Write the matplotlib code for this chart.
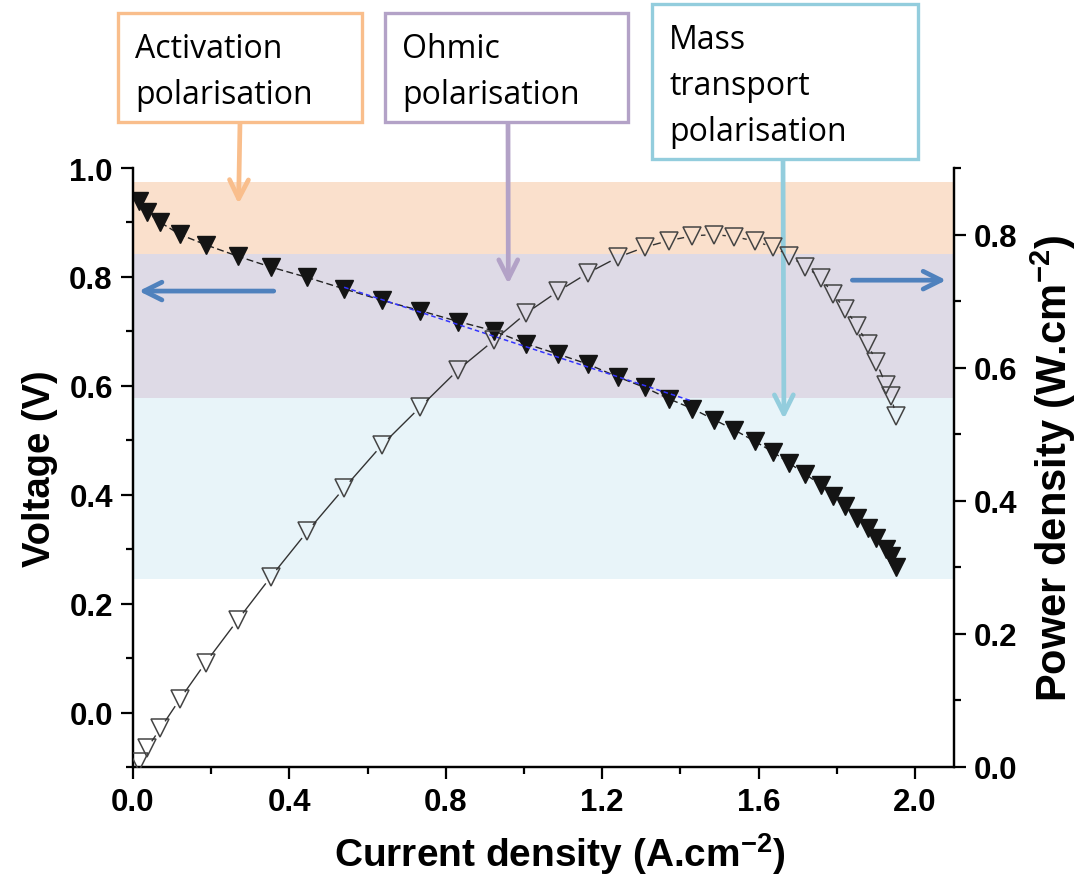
import matplotlib
matplotlib.use('Agg')
import matplotlib.pyplot as plt
import numpy as np
from matplotlib.patches import Rectangle
from matplotlib.collections import LineCollection
from matplotlib.ticker import MultipleLocator

# Data
current = [0.015, 0.036, 0.070, 0.120, 0.186, 0.268, 0.353, 0.446, 0.540, 0.637,
           0.735, 0.832, 0.923, 1.006, 1.088, 1.163, 1.241, 1.309, 1.371, 1.431,
           1.486, 1.538, 1.591, 1.638, 1.679, 1.719, 1.760, 1.790, 1.822, 1.852,
           1.879, 1.901, 1.926, 1.939, 1.952]
voltage = [0.940, 0.919, 0.900, 0.878, 0.859, 0.838, 0.818, 0.799, 0.778, 0.757,
           0.738, 0.718, 0.701, 0.677, 0.658, 0.640, 0.616, 0.597, 0.576, 0.558,
           0.538, 0.519, 0.498, 0.478, 0.458, 0.438, 0.418, 0.398, 0.379, 0.358,
           0.339, 0.321, 0.300, 0.288, 0.268]
power = [0.007, 0.028, 0.058, 0.102, 0.157, 0.221, 0.286, 0.354, 0.419, 0.484,
         0.541, 0.597, 0.641, 0.682, 0.715, 0.742, 0.766, 0.781, 0.791, 0.798,
         0.800, 0.797, 0.790, 0.781, 0.768, 0.752, 0.735, 0.711, 0.688, 0.663,
         0.636, 0.609, 0.574, 0.557, 0.527]

# linear fit over the ohmic region
fit_current = [0.54, 1.43]
fit_voltage = [0.781, 0.572]

# polarisation regions (voltage bands)
regions = [(0.842, 0.975, '#FAE0CC'),
           (0.577, 0.842, '#DEDAE6'),
           (0.245, 0.577, '#E8F4F9')]

box_labels = [['Activation', 'polarisation'],
              ['Ohmic', 'polarisation'],
              ['Mass', 'transport', 'polarisation']]
box_colors = ['#F9BE8C', '#B3A2C7', '#93CDDD']

W, H = 1086, 878
plt.rcParams['font.family'] = ['Liberation Sans', 'DejaVu Sans']
plt.rcParams['mathtext.fontset'] = 'custom'
plt.rcParams['mathtext.rm'] = 'Liberation Sans'
plt.rcParams['mathtext.bf'] = 'Liberation Sans:bold'

fig = plt.figure(figsize=(W / 100, H / 100), dpi=100)
ax = fig.add_axes([133 / W, 1 - 768 / H, (954 - 133) / W, (768 - 169) / H])
ax2 = ax.twinx()

ax.set_xlim(0, 2.1)
ax.set_ylim(-0.1, 1.0)
ax2.set_ylim(0, 0.9)

for lo, hi, c in regions:
    ax.axhspan(lo, hi, color=c, lw=0, zorder=0)

ax.plot(current, voltage, ls=(0, (5, 2.5)), color='#222222', lw=1.0,
        marker='v', ms=12.5, mfc='#141414', mec='#141414', zorder=3)
ax.plot(fit_current, fit_voltage, ls=(0, (3, 2)), color='#3333ff', lw=1.1, zorder=4)

# power curve: Origin-style line broken around the hollow markers
ax2.plot(current, power, ls='none', marker='v', ms=12.5, mfc='none',
         mec='#444444', mew=1.1, zorder=3)
pts = ax2.transData.transform(np.column_stack([current, power]))
segs = []
gap = 8.5
for p, q in zip(pts[:-1], pts[1:]):
    d = q - p
    n = np.hypot(*d)
    if n > 2 * gap + 1:
        u = d / n
        segs.append([p + u * gap, q - u * gap])
fig.add_artist(LineCollection(segs, colors='#333333', linewidths=1.0,
                              transform=None, zorder=3))

ax.xaxis.set_major_locator(MultipleLocator(0.4))
ax.xaxis.set_minor_locator(MultipleLocator(0.2))
ax.yaxis.set_major_locator(MultipleLocator(0.2))
ax.yaxis.set_minor_locator(MultipleLocator(0.1))
ax2.yaxis.set_major_locator(MultipleLocator(0.2))
ax2.yaxis.set_minor_locator(MultipleLocator(0.1))

for a in (ax, ax2):
    a.spines['top'].set_visible(False)
    for s in a.spines.values():
        s.set_linewidth(1.6)
    a.tick_params(which='major', direction='out', length=8.5, width=1.6,
                  labelsize=22.5, pad=6)
    a.tick_params(which='minor', direction='out', length=5, width=1.6)
ax.tick_params(axis='y', which='both', right=False)
ax2.tick_params(axis='y', which='both', left=False)
ax.set_yticks([0.0, 0.2, 0.4, 0.6, 0.8, 1.0])
ax.set_yticklabels(['0.0', '0.2', '0.4', '0.6', '0.8', '1.0'], fontweight='bold')
ax.set_xticks([0.0, 0.4, 0.8, 1.2, 1.6, 2.0])
ax.set_xticklabels(['0.0', '0.4', '0.8', '1.2', '1.6', '2.0'], fontweight='bold')
ax2.set_yticks([0.0, 0.2, 0.4, 0.6, 0.8])
ax2.set_yticklabels(['0.0', '0.2', '0.4', '0.6', '0.8'], fontweight='bold')

ax.set_xlabel(r'Current density (A.cm$^{\mathbf{-2}}$)', fontsize=28, fontweight='bold')
ax.xaxis.set_label_coords(0.52, -0.105)
ax.set_ylabel('Voltage (V)', fontsize=27.5, fontweight='bold', labelpad=8)
ax2.set_ylabel(r'Power density (W.cm$^{\mathbf{-2}}$)', fontsize=30, fontweight='bold', labelpad=8)


def fx(px):
    return px / W


def fy(py):
    return 1 - py / H


# region label boxes (pixel positions from the reference)
boxes = [(118, 14, 362, 123), (385, 14, 628, 123), (652, 5, 918, 160)]
for (x0, y0, x1, y1), lines, col in zip(boxes, box_labels, box_colors):
    fig.add_artist(Rectangle((fx(x0), fy(y1)), fx(x1 - x0), (y1 - y0) / H,
                             transform=fig.transFigure, fc='white', ec=col, lw=2.4))
    for i, line in enumerate(lines):
        fig.text(fx(x0 + 17), fy(y0 + 44 + i * 46), line, family=['Open Sans', 'DejaVu Sans'],
                 fontsize=23, va='baseline', ha='left')

# arrows from boxes down into the bands
arrow_tips = [(0.27, 0.934), (0.96, 0.787), (1.665, 0.539)]
arrow_starts = [(240, 123), (508, 123), (783, 160)]
for (tx, ty), (sx, sy), col in zip(arrow_tips, arrow_starts, box_colors):
    ax.annotate('', xy=(tx, ty), xycoords='data',
                xytext=(fx(sx), fy(sy)), textcoords='figure fraction',
                arrowprops=dict(arrowstyle='->', color=col, lw=3.4, mutation_scale=34,
                                shrinkA=0, shrinkB=0),
                annotation_clip=False, zorder=6)

# axis pointer arrows
ax.annotate('', xy=(0.015, 0.774), xytext=(0.36, 0.774),
            arrowprops=dict(arrowstyle='->', color='#4F81BD', lw=3.4, mutation_scale=32,
                            shrinkA=0, shrinkB=0), zorder=6)
ax.annotate('', xy=(2.08, 0.794), xytext=(1.84, 0.794),
            arrowprops=dict(arrowstyle='->', color='#4F81BD', lw=3.4, mutation_scale=32,
                            shrinkA=0, shrinkB=0), zorder=6)

fig.savefig('out.png', dpi=100, facecolor='white')
